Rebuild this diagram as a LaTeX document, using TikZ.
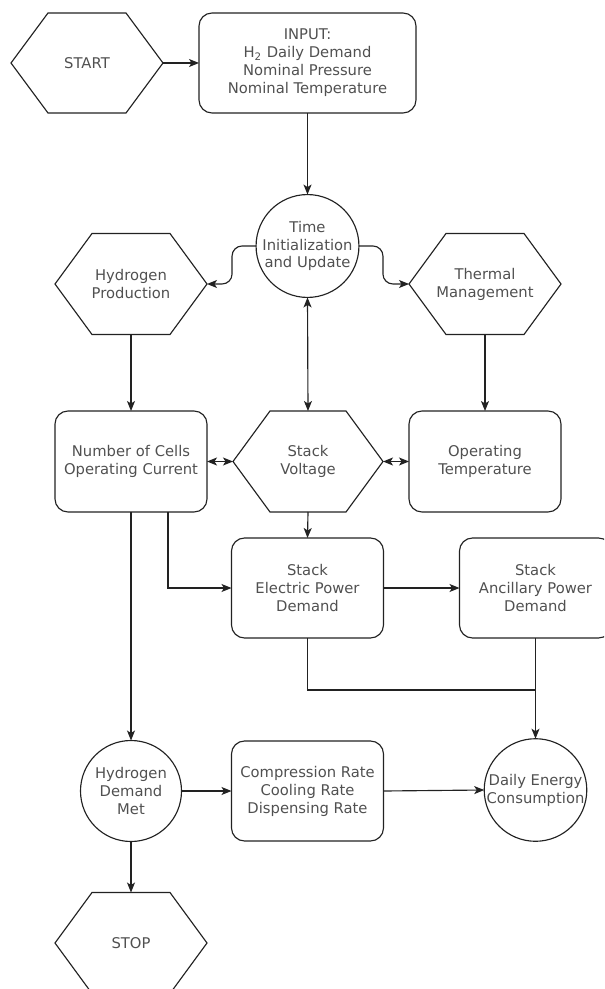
\documentclass[tikz,border=0pt]{standalone}
\usepackage{fontspec}
\setmainfont{DejaVu Sans}
\usetikzlibrary{arrows.meta}
\definecolor{linec}{HTML}{222222}
\definecolor{textc}{HTML}{505050}
\newcommand\hexoutline[1]{\draw[plain, line join=miter] (#1.west) -- ([xshift=7.4mm]#1.north west) -- ([xshift=-7.4mm]#1.north east) -- (#1.east) -- ([xshift=-7.4mm]#1.south east) -- ([xshift=7.4mm]#1.south west) -- cycle;}
\begin{document}
\begin{tikzpicture}[x=0.2mm,y=-0.2mm,
  every node/.style={font=\fontsize{8.4pt}{10.2pt}\selectfont, text=textc, align=center, outer sep=0pt, inner sep=0pt},
  boxnode/.style={draw=linec, line width=0.65pt, rounded corners=2.6mm, minimum width=30.4mm, minimum height=20mm},
  hexnode/.style={minimum width=30.4mm, minimum height=20.2mm},
  circnode/.style={draw=linec, line width=0.65pt, circle, minimum size=20.2mm},
  plain/.style={draw=linec, line width=0.65pt},
  tip/.style={},
  conn/.style={plain, -{Stealth[length=2mm,width=1.6mm,inset=0.5mm]}},
  dconn/.style={plain, {Stealth[length=2mm,width=1.6mm,inset=0.5mm]}-{Stealth[length=2mm,width=1.6mm,inset=0.5mm]}},
]
\path[use as bounding box] (0,0) rectangle (604,989);
\clip (0,0) rectangle (604,989);

% nodes
\node[hexnode, minimum height=20mm] (start) at (87,63) {START};
\node[boxnode, minimum width=43.4mm] (input) at (307.5,63) {INPUT:\\H\textsubscript{2} Daily Demand\\Nominal Pressure\\Nominal Temperature};
\node[circnode] (time) at (307.5,246) {Time\\Initialization\\and Update};
\node[hexnode] (hp) at (131,284) {Hydrogen\\Production};
\node[hexnode] (tm) at (485,284) {Thermal\\Management};
\node[boxnode, minimum height=20.2mm] (noc) at (131,461.5) {Number of Cells\\Operating Current};
\node[hexnode, minimum width=30mm] (sv) at (308,461.5) {Stack\\Voltage};
\node[boxnode, minimum height=20.2mm] (ot) at (485,461.5) {Operating\\Temperature};
\node[boxnode] (sepd) at (307.5,588) {Stack\\Electric Power\\Demand};
\node[boxnode] (sapd) at (535.5,588) {Stack\\Ancillary Power\\Demand};
\node[circnode] (hdm) at (131,791) {Hydrogen\\Demand\\Met};
\node[boxnode] (cr) at (307.5,791) {Compression Rate\\Cooling Rate\\Dispensing Rate};
\node[circnode] (dec) at (535.5,790) {Daily Energy\\Consumption};
\node[hexnode] (stop) at (131,943) {STOP};

\hexoutline{start}
\hexoutline{hp}
\hexoutline{tm}
\hexoutline{sv}
\hexoutline{stop}

\coordinate (join) at (535.5,690);

% connectors
\draw[conn] (start.east) -- (input.west);
\draw[conn] (input.south) -- (time.north);
\draw[conn, rounded corners=2mm] (time.west) -- ++(-24,0) |- (hp.east);
\draw[conn, rounded corners=2mm] (time.east) -- ++(24,0) |- (tm.west);
\draw[dconn] (time.south) -- (sv.north);
\draw[conn] (hp.south) -- (noc.north);
\draw[conn] (tm.south) -- (ot.north);
\draw[dconn] (noc.east) -- (sv.west);
\draw[dconn] (sv.east) -- (ot.west);
\draw[conn] (sv.south) -- (sepd.north);
\draw[conn] ([xshift=7.4mm]noc.south) |- (sepd.west);
\draw[conn] (sepd.east) -- (sapd.west);
\draw[plain] (sepd.south) |- (join);
\draw[conn] (sapd.south) -- (dec.north);
\draw[conn] (noc.south) -- (hdm.north);
\draw[conn] (hdm.east) -- (cr.west);
\draw[conn] (cr.east) -- (dec.west);
\draw[conn] (hdm.south) -- (stop.north);
\end{tikzpicture}
\end{document}
